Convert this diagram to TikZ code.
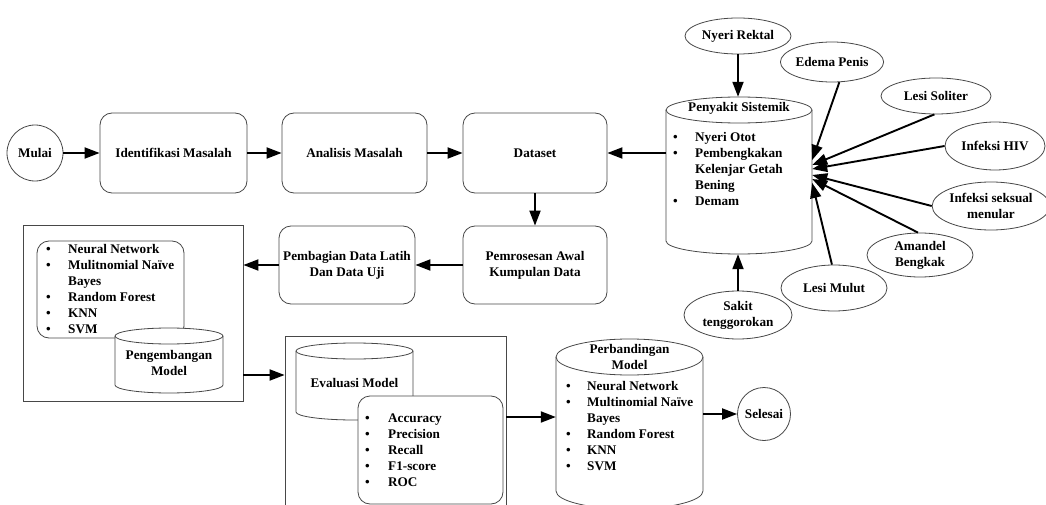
\documentclass[tikz,border=0pt]{standalone}
\usepackage{fontspec}
\setmainfont{Liberation Serif}
\usetikzlibrary{arrows.meta,shapes.geometric,calc}
\newcommand\cyldraw[5]{%
  \pgfmathsetmacro\cylrx{(#2-#1)/2}%
  \draw[shp] (#1,#3) -- (#1,#4) arc[start angle=180,end angle=0,x radius=\cylrx,y radius=#5] -- (#2,#3) arc[start angle=0,end angle=-180,x radius=\cylrx,y radius=#5] -- cycle;
  \draw[shp,fill=none] (#1,#3) arc[start angle=180,end angle=0,x radius=\cylrx,y radius=#5];
}
\newcommand\blist[2]{\begin{tabular}[t]{@{}p{#1}@{}l@{}}#2\end{tabular}}
\begin{document}
\begin{tikzpicture}[x=1pt,y=-1pt,
  font=\fontsize{13.2}{16}\selectfont\bfseries,
  shp/.style={draw=black!72, line width=0.8pt, fill=white},
  rbox/.style={shp, rectangle, rounded corners=12pt, inner sep=0pt, minimum height=80pt, align=center},
  sqbox/.style={shp, rectangle, inner sep=0pt},
  ell/.style={shp, ellipse, inner sep=0pt, align=center},
  circ/.style={shp, circle, inner sep=0pt},
  lbl/.style={inner sep=0pt, align=center},
  lst/.style={inner sep=0pt, anchor=base west},
  arr/.style={-{Triangle[length=15pt,width=11pt]}, line width=1.9pt, draw=black}]
\useasboundingbox (0,0) rectangle (1046,505);
\clip (0,0) rectangle (1046,505);

% top row
\node[circ, minimum size=56pt] (mu) at (35,153) {Mulai};
\node[rbox, minimum width=147pt] (id) at (173.5,153) {Identifikasi Masalah};
\node[rbox, minimum width=145pt] (an) at (354.5,153) {Analisis Masalah};
\node[rbox, minimum width=144pt] (ds) at (535,153) {Dataset};
\node[rbox, minimum width=144pt, minimum height=78pt] (pa) at (535,265) {Pemrosesan Awal\\Kumpulan Data};
\node[rbox, minimum width=136pt, minimum height=78pt] (pb) at (347,265) {Pembagian Data Latih\\Dan Data Uji};

% Penyakit Sistemik cylinder
\cyldraw{666}{812}{110}{241}{13}
\node[inner sep=0pt, minimum width=146pt, minimum height=157pt] (ps) at (739,175.5) {};
\node[lbl] (pst) at (739,108.5) {Penyakit Sistemik};
\node[lst] (psl) at (673,141.5) {\blist{22pt}{•&Nyeri Otot\\•&Pembengkakan\\&Kelenjar Getah\\&Bening\\•&Demam}};

% symptom ellipses
\node[ell, minimum width=106pt, minimum height=36pt] (nr) at (738,36) {Nyeri Rektal};
\node[ell, minimum width=92pt, minimum height=40pt] (ep) at (832,62) {Edema Penis};
\node[ell, minimum width=110pt, minimum height=36pt] (ls) at (936,96) {Lesi Soliter};
\node[ell, minimum width=100pt, minimum height=48pt] (ih) at (995,146) {Infeksi HIV};
\node[ell, minimum width=108pt, minimum height=48pt] (is) at (991,206) {Infeksi seksual\\menular};
\node[ell, minimum width=106pt, minimum height=44pt] (am) at (920,255) {Amandel\\Bengkak};
\node[ell, minimum width=106pt, minimum height=46pt] (lm) at (834,288) {Lesi Mulut};
\node[ell, minimum width=108pt, minimum height=48pt] (st) at (738,315) {Sakit\\tenggorokan};

% model development box
\node[sqbox, minimum width=220pt, minimum height=176pt] (b1) at (133,313) {};
\node[sqbox, rounded corners=12pt, minimum width=147pt, minimum height=97pt] (l1) at (110.5,289.5) {};
\node[lst] (l1t) at (46,253.5) {\blist{22pt}{•&Neural Network\\•&Mulitnomial Naïve\\&Bayes\\•&Random Forest\\•&KNN\\•&SVM}};
\cyldraw{115}{223}{336}{385}{8}
\node[lbl] (pm) at (169,363) {Pengembangan\\Model};

% evaluation box
\node[sqbox, minimum width=221pt, minimum height=174pt] (b2) at (395.5,423) {};
\cyldraw{296}{413}{351}{412}{8}
\node[lbl] (ev) at (354.5,383) {Evaluasi Model};
\node[sqbox, rounded corners=12pt, minimum width=145pt, minimum height=108pt] (mt) at (430.5,450) {};
\node[lst] (mtl) at (365,422.5) {\blist{23pt}{•&Accuracy\\•&Precision\\•&Recall\\•&F1-score\\•&ROC}};

% comparison cylinder
\cyldraw{556}{703}{357}{491}{18}
\node[inner sep=0pt, minimum width=147pt, minimum height=166pt] (pc) at (629.5,422) {};
\node[lbl] (pct) at (629.5,357) {Perbandingan\\Model};
\node[lst] (pcl) at (566,390.5) {\blist{21pt}{•&Neural Network\\•&Multinomial Naïve\\&Bayes\\•&Random Forest\\•&KNN\\•&SVM}};

\node[circ, minimum size=53pt] (sl) at (764,414) {Selesai};

% connectors
\draw[arr] (mu) -- (id);
\draw[arr] (id) -- (an);
\draw[arr] (an) -- (ds);
\draw[arr] (ps.west |- ds.east) -- (ds.east);
\draw[arr] (ds) -- (pa);
\draw[arr] (pa) -- (pb);
\draw[arr] (pb.west) -- (pb.west -| b1.east);
\coordinate (o1) at (b1.east |- 0,375);
\draw[arr] (o1) -- (o1 -| b2.west);
\coordinate (o2) at (b2.east |- 0,417);
\draw[arr] (o2) -- (o2 -| pc.west);
\draw[arr] (sl.west -| pc.east) -- (sl.west);
\draw[arr] (nr) -- (nr.south |- ps.north);
\draw[arr] (st) -- (st.north |- ps.south);

\coordinate (c1) at (ps.east |- 0,160);
\coordinate (c2) at (ps.east |- 0,165);
\coordinate (c3) at (ps.east |- 0,169);
\coordinate (c4) at (ps.east |- 0,175);
\coordinate (c5) at (ps.east |- 0,179);
\coordinate (c6) at (ps.east |- 0,183);
\draw[arr] (ep.-70) -- (c1);
\draw[arr] (ls.-95) -- (c2);
\draw[arr] (ih.180) -- (c3);
\draw[arr] (is.180) -- (c4);
\draw[arr] (am.95) -- (c5);
\draw[arr] (lm.95) -- (c6);
\end{tikzpicture}
\end{document}
